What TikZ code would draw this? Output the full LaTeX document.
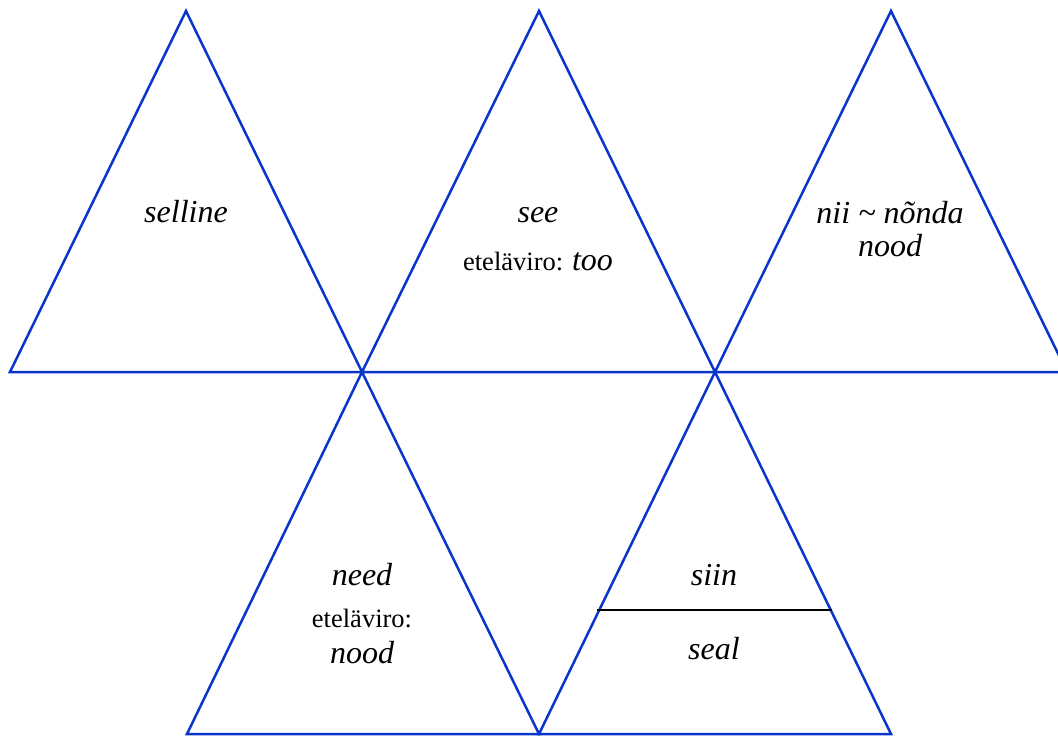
\documentclass[tikz,border=0pt]{standalone}
\usepackage{fontspec}
\setmainfont{Liberation Serif}
\definecolor{triblue}{HTML}{0A35CC}
\tikzset{
  tri/.style={draw=triblue, line width=2.5pt, line join=miter},
  divline/.style={draw=black, line width=2.3pt},
  itxt/.style={inner sep=0pt, anchor=base, font=\fontsize{32}{38}\selectfont\itshape},
  rtxt/.style={inner sep=0pt, anchor=base, font=\fontsize{26.5}{32}\selectfont},
}
\begin{document}
\begin{tikzpicture}[x=1pt,y=-1pt]
\useasboundingbox (0,0) rectangle (1058,736);
\clip (0,0) rectangle (1058,736);
% vertices
\coordinate (a1) at (186,11);
\coordinate (b1) at (10,372);
\coordinate (c1) at (362,372);
\coordinate (a2) at (539,11);
\coordinate (c2) at (715,372);
\coordinate (a3) at (891,11);
\coordinate (c3) at (1067,372);
\coordinate (d1) at (187,734);
\coordinate (d2) at (539,734);
\coordinate (d3) at (891,734);
\coordinate (s1) at (597,610);
\coordinate (s2) at (832,610);
% triangles
\draw[tri] (a1) -- (b1) -- (c1) -- cycle;
\draw[tri] (a2) -- (c1) -- (c2) -- cycle;
\draw[tri] (a3) -- (c2) -- (c3) -- cycle;
\draw[tri] (c1) -- (d1) -- (d2) -- cycle;
\draw[tri] (c2) -- (d2) -- (d3) -- cycle;
\draw[divline] (s1) -- (s2);
% texts
\node[itxt] (t1) at (186,222) {selline};
\node[itxt] (t2) at (538,222) {see};
\node[inner sep=0pt, anchor=base] (t3) at (538,270) {\fontsize{26.5}{32}\selectfont eteläviro: \fontsize{32}{38}\selectfont\itshape too};
\node[itxt] (t4) at (890,223) {nii \char`\~{} nõnda};
\node[itxt] (t5) at (890,256) {nood};
\node[itxt] (t6) at (362,585) {need};
\node[rtxt] (t7) at (362,627) {eteläviro:};
\node[itxt] (t8) at (362,663) {nood};
\node[itxt] (t9) at (714,585) {siin};
\node[itxt] (t10) at (714,659) {seal};
\end{tikzpicture}
\end{document}
